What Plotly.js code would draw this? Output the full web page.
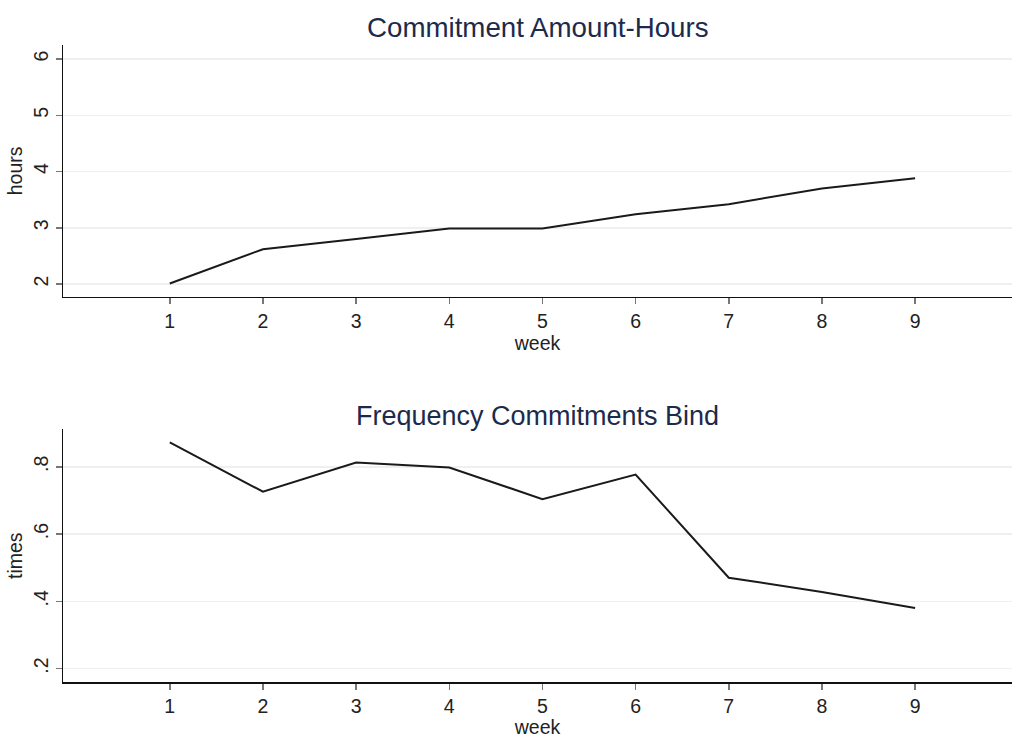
<!DOCTYPE html>
<html>
<head>
<meta charset="utf-8">
<script src="https://cdn.plot.ly/plotly-3.0.1.min.js"></script>
<style>html,body{margin:0;padding:0;background:#fff;}#chart{width:1012px;height:738px;}</style>
</head>
<body>
<div id="chart"></div>
<script>
const weeks = [1, 2, 3, 4, 5, 6, 7, 8, 9];
const hours = [2.01, 2.62, 2.80, 2.99, 2.99, 3.24, 3.42, 3.70, 3.88];
const times = [0.873, 0.726, 0.813, 0.798, 0.704, 0.777, 0.470, 0.428, 0.380];
const hourTicks = [2, 3, 4, 5, 6];
const hourTickText = ["2", "3", "4", "5", "6"];
const timeTicks = [0.2, 0.4, 0.6, 0.8];
const timeTickText = [".2", ".4", ".6", ".8"];
const topTitle = "Commitment Amount-Hours";
const bottomTitle = "Frequency Commitments Bind";
const xLabel = "week";
const topYLabel = "hours";
const bottomYLabel = "times";

const FONT = "Liberation Sans, Arial, Helvetica, sans-serif";
const lineStyle = {color: "#1a1a1a", width: 2};

const traces = [
  {x: weeks, y: hours, type: "scatter", mode: "lines", line: lineStyle, xaxis: "x", yaxis: "y", hoverinfo: "skip"},
  {x: weeks, y: times, type: "scatter", mode: "lines", line: lineStyle, xaxis: "x2", yaxis: "y2", hoverinfo: "skip"}
];

function xAxis(anchor) {
  return {
    anchor: anchor,
    range: [-0.146, 10.04],
    tickvals: weeks,
    ticktext: weeks.map(String),
    ticks: "outside", ticklen: 6, tickwidth: 1.5, tickcolor: "#777",
    showline: true, linecolor: "#111", linewidth: 1.5,
    showgrid: false, zeroline: false,
    tickfont: {family: FONT, size: 19.5, color: "#222"},
    title: {text: xLabel, font: {family: FONT, size: 19.5, color: "#222"}, standoff: 0}
  };
}
function yAxis(anchor, domain, range, vals, text, label) {
  return {
    anchor: anchor, domain: domain, range: range,
    tickvals: vals, ticktext: text, tickangle: -90,
    ticks: "outside", ticklen: 6, tickwidth: 1.5, tickcolor: "#777",
    showline: true, linecolor: "#111", linewidth: 1.5,
    showgrid: true, gridcolor: "#efefef", gridwidth: 1.5, zeroline: false,
    tickfont: {family: FONT, size: 19.5, color: "#222"},
    title: {text: label, font: {family: FONT, size: 19.5, color: "#222"}, standoff: 2}
  };
}

const layout = {
  width: 1012, height: 738,
  margin: {l: 62.5, r: 0, t: 45, b: 56.3},
  paper_bgcolor: "#fff", plot_bgcolor: "#fff",
  showlegend: false,
  xaxis: xAxis("y"),
  xaxis2: xAxis("y2"),
  yaxis: yAxis("x", [0.6047, 1], [1.774, 6.25], hourTicks, hourTickText, topYLabel),
  yaxis2: yAxis("x2", [0, 0.3964], [0.16, 0.911], timeTicks, timeTickText, bottomYLabel),
  annotations: [
    {text: topTitle, xref: "paper", yref: "paper", x: 0.5, y: 1.0276, xanchor: "center", yanchor: "middle", showarrow: false,
     font: {family: FONT, size: 27.7, color: "#1c2a4c"}},
    {text: bottomTitle, xref: "paper", yref: "paper", x: 0.5, y: 0.4178, xanchor: "center", yanchor: "middle", showarrow: false,
     font: {family: FONT, size: 27, color: "#1c2a4c"}}
  ]
};

Plotly.newPlot("chart", traces, layout, {staticPlot: true, displayModeBar: false});
</script>
</body>
</html>
